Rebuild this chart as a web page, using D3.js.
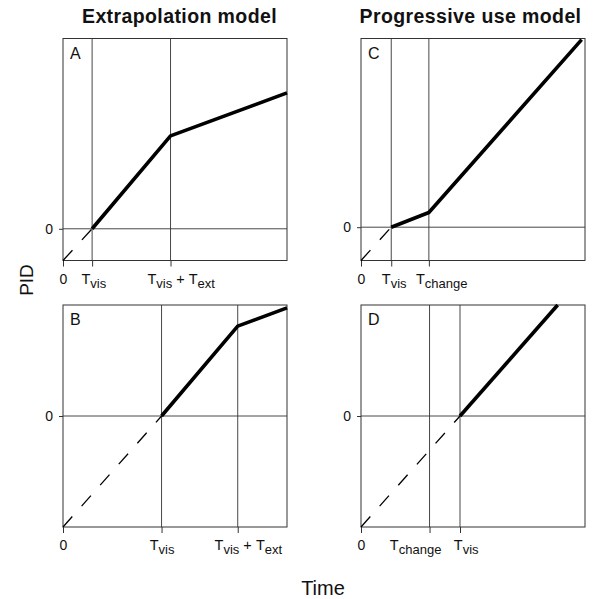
<!DOCTYPE html>
<meta charset="UTF-8">
<style>
body { margin: 0; background: #fff; }
text { font-family: "Liberation Sans", Arial, sans-serif; fill: #111; }
.frame { fill: none; stroke: #333; stroke-width: 1; }
.grid { stroke: #333; stroke-width: 0.9; }
.tick line { stroke: #333; }
.solid { fill: none; stroke: #000; stroke-width: 3.6; stroke-linejoin: round; }
.dashed { fill: none; stroke: #000; stroke-width: 1.3; stroke-dasharray: 14,14; }
</style>
<body>
<script src="https://cdn.jsdelivr.net/npm/d3@7"></script>
<script>

// panel data, in arbitrary time / PID units
var panelIds = ["A", "B", "C", "D"];
var tMax = [100, 100, 100, 100];
var pidRange = [[-14, 84], [-50, 50], [-15, 85], [-50, 50]];
var timeMarks = [[13, 48], [44, 78], [13.5, 30.3], [30.6, 44.2]];
var timeLabels = [
  ["T_vis", "T_vis + T_ext"],
  ["T_vis", "T_vis + T_ext"],
  ["T_vis", "T_change"],
  ["T_change", "T_vis"]
];
var extrapolated = [
  [[0, -14], [13, 0]],
  [[0, -50], [44, 0]],
  [[0, -15], [13.5, 0]],
  [[0, -50], [44.2, 0]]
];
var observed = [
  [[13, 0], [48, 41], [100, 60]],
  [[44, 0], [78, 40.5], [100, 48.7]],
  [[13.5, 0], [30.3, 6.6], [98.5, 84.5]],
  [[44.2, 0], [87.8, 50]]
];
var columnTitles = ["Extrapolation model", "Progressive use model"];

// layout
var W = 596, H = 599;
var colLeft = [63, 361], rowTop = [38.5, 305];
var pw = 224, ph = 222;
// fraction of label width that sits left of its tick
var labelAlign = [[0.45, 0.35], [0.5, 0.35], [0.4, 0.26], [0.78, 0.27]];

var svg = d3.select("body").append("svg")
    .attr("width", W)
    .attr("height", H);

// column titles
svg.selectAll("text.title")
  .data(columnTitles)
  .enter().append("text")
    .attr("class", "title")
    .attr("x", function(d, i) { return [179.5, 470.5][i]; })
    .attr("y", 22.5)
    .attr("text-anchor", "middle")
    .style("font-size", "19.5px")
    .style("font-weight", "bold")
    .style("letter-spacing", "0.4px")
    .text(function(d) { return d; });

svg.append("text")
    .attr("transform", "translate(33,280) rotate(-90)")
    .attr("text-anchor", "middle")
    .style("font-size", "19px")
    .text("PID");

svg.append("text")
    .attr("x", 323).attr("y", 595)
    .attr("text-anchor", "middle")
    .style("font-size", "20px")
    .text("Time");

// write "T_vis + T_ext" style labels with subscripts
function writeLabel(sel, label) {
  var parts = label.split(/(T_\w+)/).filter(function(s) { return s.length; });
  var shift = 0;
  parts.forEach(function(p) {
    if (p.indexOf("T_") === 0) {
      sel.append("tspan").style("font-size", "14.5px").attr("dy", -shift).text("T");
      sel.append("tspan").style("font-size", "13px").attr("dy", 4).text(p.slice(2));
      shift = 4;
    } else {
      sel.append("tspan").style("font-size", "14.5px").attr("dy", -shift)
          .text(p.replace(/ /g, "\u00a0"));
      shift = 0;
    }
  });
}

panelIds.forEach(function(id, i) {
  var col = i < 2 ? 0 : 1, row = i % 2;
  var g = svg.append("g")
      .attr("transform", "translate(" + colLeft[col] + "," + rowTop[row] + ")");

  var x = d3.scaleLinear().domain([0, tMax[i]]).range([0, pw]);
  var y = d3.scaleLinear().domain(pidRange[i]).range([ph, 0]);

  // vertical time markers
  g.selectAll("line.vgrid")
    .data(timeMarks[i])
    .enter().append("line")
      .attr("class", "grid")
      .attr("x1", function(d) { return x(d); })
      .attr("x2", function(d) { return x(d); })
      .attr("y1", 0).attr("y2", ph);

  // zero line
  g.append("line")
      .attr("class", "grid")
      .attr("x1", 0).attr("x2", pw)
      .attr("y1", y(0)).attr("y2", y(0));

  g.append("rect")
      .attr("class", "frame")
      .attr("width", pw).attr("height", ph);

  // x axis ticks
  var xAxis = g.append("g")
      .attr("transform", "translate(0," + ph + ")")
      .call(d3.axisBottom(x).tickValues([0].concat(timeMarks[i])).tickSize(6).tickFormat(""));
  xAxis.select(".domain").remove();

  var labels = ["0"].concat(timeLabels[i]);
  var aligns = [0.5].concat(labelAlign[i]);
  xAxis.selectAll(".tick").each(function(d, k) {
    var t = d3.select(this).append("text")
        .attr("y", 23)
        .attr("fill", "#111")
        .attr("text-anchor", "start");
    if (k === 0) t.style("font-size", "14px").text("0");
    else writeLabel(t, labels[k]);
    var w = t.node().getComputedTextLength();
    t.attr("x", -aligns[k] * w);
  });

  // y axis tick at zero
  var yAxis = g.append("g")
      .call(d3.axisLeft(y).tickValues([0]).tickSize(4).tickPadding(6).tickFormat(d3.format("d")));
  yAxis.select(".domain").remove();
  yAxis.selectAll("text")
      .attr("fill", "#111")
      .style("font-size", "14px")
      .style("font-family", "\"Liberation Sans\", Arial, sans-serif");

  var line = d3.line()
      .x(function(d) { return x(d[0]); })
      .y(function(d) { return y(d[1]); });

  g.append("path")
      .attr("class", "dashed")
      .attr("d", line(extrapolated[i]));

  g.append("path")
      .attr("class", "solid")
      .attr("d", line(observed[i]));

  g.append("text")
      .attr("x", 7).attr("y", 20)
      .style("font-size", "16px")
      .text(id);
});

</script>
</body>
